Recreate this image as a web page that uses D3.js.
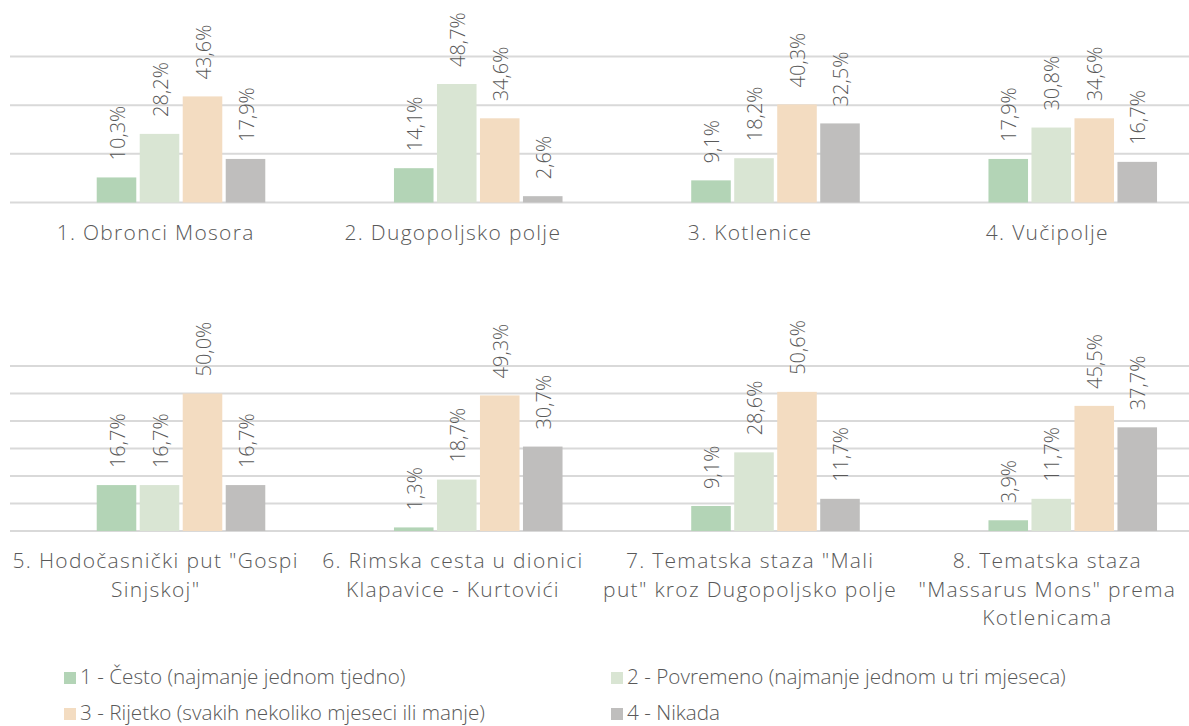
<!DOCTYPE html>
<html>
<head>
<meta charset="utf-8">
<script src="https://cdn.jsdelivr.net/npm/d3@7"></script>
<style>
  body { margin: 0; background: #fff; }
  text { font-family: "Open Sans", sans-serif; font-weight: 300; fill: #595959; }
</style>
</head>
<body>
<div class="chart"></div>
<script>
// data
const seriesNames = [
  "1 - Često (najmanje jednom tjedno)",
  "2 - Povremeno (najmanje jednom u tri mjeseca)",
  "3 - Rijetko (svakih nekoliko mjeseci ili manje)",
  "4 - Nikada"
];
const colors = ["#b3d4b6", "#d9e5d3", "#f3dcc1", "#bfbebd"];

const categories = [
  ["1. Obronci Mosora"],
  ["2. Dugopoljsko polje"],
  ["3. Kotlenice"],
  ["4. Vučipolje"],
  ["5. Hodočasnički put \"Gospi", "Sinjskoj\""],
  ["6. Rimska cesta u dionici", "Klapavice - Kurtovići"],
  ["7. Tematska staza \"Mali", "put\" kroz Dugopoljsko polje"],
  ["8. Tematska staza", "\"Massarus Mons\" prema", "Kotlenicama"]
];

const cesto     = [10.3, 14.1,  9.1, 17.9, 16.7,  1.3,  9.1,  3.9];
const povremeno = [28.2, 48.7, 18.2, 30.8, 16.7, 18.7, 28.6, 11.7];
const rijetko   = [43.6, 34.6, 40.3, 34.6, 50.0, 49.3, 50.6, 45.5];
const nikada    = [17.9,  2.6, 32.5, 16.7, 16.7, 30.7, 11.7, 37.7];

const topTicks = [0, 20, 40, 60];
const bottomTicks = [0, 10, 20, 30, 40, 50, 60];

const values = [cesto, povremeno, rijetko, nikada];

const W = 1189, H = 726;
const hr = d3.formatLocale({decimal: ",", thousands: ".", grouping: [3], currency: ["", ""]});
const fmt = v => hr.format(".1f")(v) + "%";

const svg = d3.select(".chart")
  .append("svg")
  .attr("width", W)
  .attr("height", H);

// four panels per row
const x0 = d3.scaleBand()
  .domain(d3.range(4))
  .range([0, W]);

// first slot is left empty, like in the original
const x1 = d3.scaleBand()
  .domain([""].concat(seriesNames))
  .range([52, 267])
  .paddingInner(0.08)
  .paddingOuter(0.04);

const rows = [
  {idx: [0, 1, 2, 3], y: d3.scaleLinear().domain([0, 60]).range([202.5, 56.5]), ticks: topTicks, labelY: 240},
  {idx: [4, 5, 6, 7], y: d3.scaleLinear().domain([0, 60]).range([531, 366]), ticks: bottomTicks, labelY: 568}
];

rows.forEach(row => {
  const g = svg.append("g");

  g.selectAll(".grid")
    .data(row.ticks)
    .join("line")
    .attr("class", "grid")
    .attr("x1", 10)
    .attr("x2", W)
    .attr("y1", d => row.y(d))
    .attr("y2", d => row.y(d))
    .attr("stroke", "#d9d9d9")
    .attr("stroke-width", 2);

  row.idx.forEach((ci, p) => {
    const pg = g.append("g")
      .attr("transform", `translate(${x0(p)},0)`);

    const bars = seriesNames.map((s, si) => ({s, si, v: values[si][ci]}));

    pg.selectAll("rect")
      .data(bars)
      .join("rect")
      .attr("x", d => x1(d.s))
      .attr("width", x1.bandwidth())
      .attr("y", d => row.y(d.v))
      .attr("height", d => row.y(0) - row.y(d.v))
      .attr("fill", d => colors[d.si]);

    pg.selectAll(".val")
      .data(bars)
      .join("text")
      .attr("class", "val")
      .attr("transform", d => `translate(${x1(d.s) + x1.bandwidth() / 2},${row.y(d.v) - 17}) rotate(-90)`)
      .attr("dy", "0.4em")
      .attr("font-size", 20)
      .attr("text-anchor", "start")
      .text(d => fmt(d.v));

    // one text per line so the wrapped labels keep the original spacing
    pg.selectAll(".cat")
      .data(categories[ci])
      .join("text")
      .attr("class", "cat")
      .attr("x", x0.bandwidth() / 2 + 7)
      .attr("y", (d, i) => row.labelY + i * 28.5)
      .attr("text-anchor", "middle")
      .attr("font-size", 21)
      .attr("letter-spacing", 1.3)
      .text(d => d);
  });
});

// legend
const legendPos = [[64, 684], [611, 684], [64, 720], [611, 720]];
const legend = svg.append("g")
  .selectAll("g")
  .data(seriesNames)
  .join("g")
  .attr("transform", (d, i) => `translate(${legendPos[i][0]},${legendPos[i][1]})`);

legend.append("rect")
  .attr("x", 0)
  .attr("y", -12)
  .attr("width", 12)
  .attr("height", 12)
  .attr("fill", (d, i) => colors[i]);

legend.append("text")
  .attr("x", 16)
  .attr("y", 0)
  .attr("font-size", 20.7)
  .text(d => d);
</script>
</body>
</html>
